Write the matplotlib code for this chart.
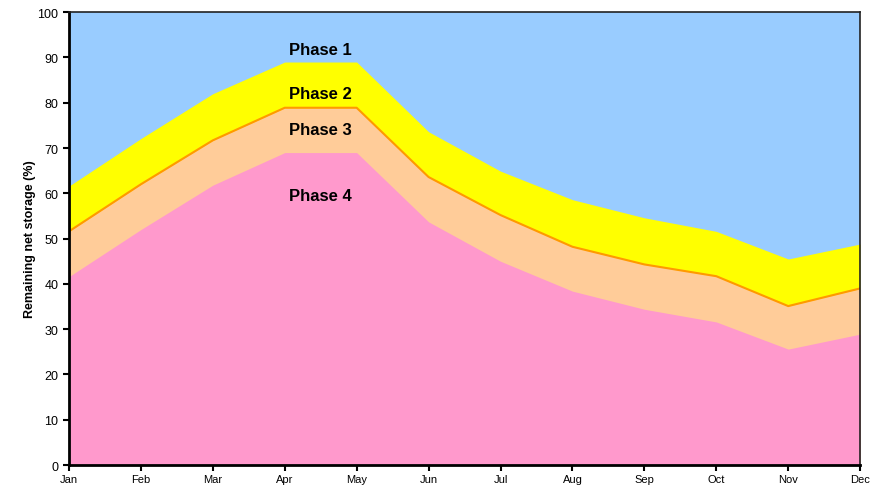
import numpy as np
import matplotlib.pyplot as plt

plt.rcParams['font.family'] = ['Liberation Sans', 'DejaVu Sans']

months = ['Jan', 'Feb', 'Mar', 'Apr', 'May', 'Jun', 'Jul', 'Aug', 'Sep', 'Oct', 'Nov', 'Dec']
# cumulative tops of each band (%)
phase4 = [41.6, 52.0, 61.8, 69.0, 69.0, 53.7, 45.0, 38.4, 34.4, 31.6, 25.6, 28.9]
phase3 = [51.6, 62.0, 71.7, 78.9, 78.9, 63.6, 55.2, 48.2, 44.3, 41.7, 35.1, 39.0]
phase2 = [61.6, 72.1, 82.0, 89.0, 89.0, 73.6, 64.9, 58.6, 54.6, 51.6, 45.5, 48.8]
phase1 = [100] * 12

x = np.arange(len(months))

fig = plt.figure(figsize=(8.83, 4.89), dpi=100)
ax = fig.add_axes([0.0781, 0.047, 0.896, 0.926])

ax.fill_between(x, 0, phase1, color='#99CCFF', lw=0)
ax.fill_between(x, 0, phase2, color='#FFFF00', lw=0)
ax.fill_between(x, 0, phase3, color='#FFCC99', lw=0)
ax.fill_between(x, 0, phase4, color='#FF99CC', lw=0)
ax.plot(x, phase3, color='#FF9900', lw=1.5)

ax.set_xlim(0, 11)
ax.set_ylim(0, 100)
ax.set_xticks(x)
ax.set_xticklabels(months, fontsize=8)
ax.set_yticks(range(0, 101, 10))
ax.tick_params(axis='y', labelsize=9, length=4, width=1.5, direction='out')
ax.tick_params(axis='x', length=4, width=1.5, direction='out', pad=2.5)
ax.set_ylabel('Remaining net storage (%)', fontsize=9, fontweight='bold', labelpad=1)

for s in ['left', 'bottom']:
    ax.spines[s].set_linewidth(2)
for s in ['top', 'right']:
    ax.spines[s].set_linewidth(1.2)
    ax.spines[s].set_color('#222222')

ax.text(3.5, 91.8, 'Phase 1', ha='center', va='center', fontsize=12, fontweight='bold')
ax.text(3.5, 82.1, 'Phase 2', ha='center', va='center', fontsize=12, fontweight='bold')
ax.text(3.5, 74.0, 'Phase 3', ha='center', va='center', fontsize=12, fontweight='bold')
ax.text(3.5, 59.6, 'Phase 4', ha='center', va='center', fontsize=12, fontweight='bold')

fig.savefig('out.png', dpi=100)
